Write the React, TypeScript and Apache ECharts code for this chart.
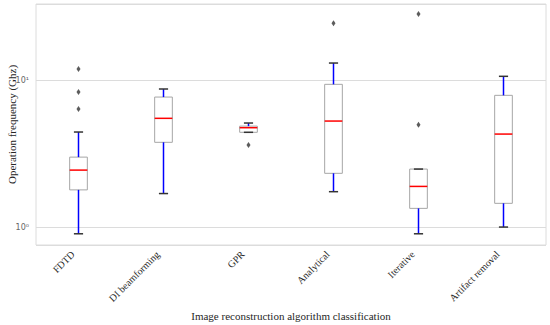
import React, { useEffect, useRef } from "react";
import * as echarts from "echarts";

const categories = ["FDTD", "DI beamforming", "GPR", "Analytical", "Iterative", "Artifact removal"];
const whiskerLow = [0.9, 1.69, 4.41, 1.74, 0.9, 1.0];
const q1 = [1.79, 3.77, 4.41, 2.32, 1.34, 1.45];
const median = [2.44, 5.49, 4.74, 5.26, 1.89, 4.29];
const q3 = [2.99, 7.66, 4.86, 9.35, 2.48, 7.87];
const whiskerHigh = [4.43, 8.69, 5.1, 13.05, 2.48, 10.6];
const outlierCategory = [0, 0, 0, 2, 3, 4, 4];
const outlierValue = [11.9, 8.3, 6.35, 3.61, 24.3, 28.1, 4.97];

const SERIF = "'Liberation Serif', 'Times New Roman', serif";

export default function App() {
  const ref = useRef<HTMLDivElement>(null);
  useEffect(() => {
    if (!ref.current) return;
    const chart = echarts.init(ref.current, undefined, { renderer: "svg" });
    const boxData = categories.map((_, i) => [i, whiskerLow[i], q1[i], median[i], q3[i], whiskerHigh[i]]);
    const outliers = outlierCategory.map((c, i) => [c, outlierValue[i]]);
    chart.setOption({
      animation: false,
      backgroundColor: "#ffffff",
      grid: {
        left: 36,
        right: 4,
        top: 4,
        bottom: 80,
        show: true,
        borderColor: "#dcdcdc",
        borderWidth: 1,
        containLabel: false,
        outerBoundsMode: "none",
      },
      xAxis: {
        type: "category",
        data: categories,
        boundaryGap: true,
        axisLine: { show: false },
        axisTick: { show: false },
        splitLine: { show: false },
        axisLabel: {
          rotate: 45,
          interval: 0,
          margin: 2,
          padding: [0, 8, 0, 0],
          fontFamily: SERIF,
          fontSize: 10,
          color: "#262626",
        },
        name: "Image reconstruction algorithm classification",
        nameLocation: "middle",
        nameGap: 65,
        nameMoveOverlap: false,
        nameTextStyle: { fontFamily: SERIF, fontSize: 11, color: "#262626" },
      },
      yAxis: {
        type: "log",
        logBase: 10,
        min: 0.755,
        max: 32.9,
        axisLine: { show: false },
        axisTick: { show: false },
        splitLine: { show: true, lineStyle: { color: "#dcdcdc", width: 1 } },
        axisLabel: {
          showMinLabel: false,
          showMaxLabel: false,
          margin: 7,
          fontFamily: "'DejaVu Sans', sans-serif",
          fontSize: 8,
          color: "#666666",
          formatter: (v: number) => {
            const l = Math.log10(v);
            const e = Math.round(l);
            if (Math.abs(l - e) > 1e-6) return "";
            const sup = ["⁰", "¹", "²", "³"];
            return "10" + (sup[e] ?? "");
          },
        },
        name: "Operation frequency (Ghz)",
        nameLocation: "middle",
        nameGap: 19,
        nameMoveOverlap: false,
        nameTextStyle: { fontFamily: SERIF, fontSize: 11, color: "#262626" },
      },
      series: [
        {
          type: "custom",
          data: boxData,
          encode: { x: 0, y: [1, 2, 3, 4, 5] },
          renderItem: (params: any, api: any) => {
            const idx = api.value(0);
            const band = api.size([1, 0])[0];
            const hw = band * 0.104;
            const cw = band * 0.054;
            const pLow = api.coord([idx, api.value(1)]);
            const pQ1 = api.coord([idx, api.value(2)]);
            const pMed = api.coord([idx, api.value(3)]);
            const pQ3 = api.coord([idx, api.value(4)]);
            const pHigh = api.coord([idx, api.value(5)]);
            const cx = pMed[0];
            const children: any[] = [
              {
                type: "rect",
                shape: { x: cx - hw, y: pQ3[1], width: hw * 2, height: pQ1[1] - pQ3[1] },
                style: { fill: "#ffffff", stroke: "#a6a6a6", lineWidth: 1 },
              },
              {
                type: "line",
                shape: { x1: cx, y1: pQ1[1], x2: cx, y2: pLow[1] },
                style: { stroke: "#0000ff", lineWidth: 1.5 },
              },
              {
                type: "line",
                shape: { x1: cx, y1: pQ3[1], x2: cx, y2: pHigh[1] },
                style: { stroke: "#0000ff", lineWidth: 1.5 },
              },
              {
                type: "line",
                shape: { x1: cx - cw, y1: pLow[1], x2: cx + cw, y2: pLow[1] },
                style: { stroke: "#333333", lineWidth: 1.5 },
              },
              {
                type: "line",
                shape: { x1: cx - cw, y1: pHigh[1], x2: cx + cw, y2: pHigh[1] },
                style: { stroke: "#333333", lineWidth: 1.5 },
              },
              {
                type: "line",
                shape: { x1: cx - hw, y1: pMed[1], x2: cx + hw, y2: pMed[1] },
                style: { stroke: "#ff0000", lineWidth: 1.5 },
              },
            ];
            return { type: "group", children };
          },
        },
        {
          type: "scatter",
          data: outliers,
          symbol: "diamond",
          symbolSize: [4, 6],
          itemStyle: { color: "#333333" },
        },
      ],
    });
    return () => chart.dispose();
  }, []);
  return (
    <div
      ref={ref}
      style={{ position: "fixed", left: 0, top: 0, width: 550, height: 325 }}
    />
  );
}
